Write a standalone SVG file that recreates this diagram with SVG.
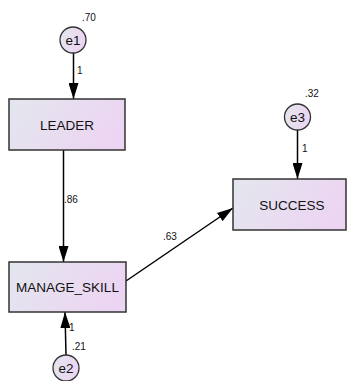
<svg xmlns="http://www.w3.org/2000/svg" width="347" height="381" viewBox="0 0 347 381">
<defs>
<linearGradient id="g" x1="0" y1="0" x2="1" y2="0.3">
<stop offset="0" stop-color="#e3e7ee"/>
<stop offset="1" stop-color="#ecd5f2"/>
</linearGradient>
<marker id="ah" markerWidth="16" markerHeight="10" refX="16" refY="5" orient="auto" markerUnits="userSpaceOnUse">
<path d="M0,0 L16,5 L0,10 z" fill="#000"/>
</marker>
<style>
.box{fill:url(#g);stroke:#333;stroke-width:1.5}
.circ{fill:url(#g);stroke:#333;stroke-width:1.3}
.lbl{font-family:"Liberation Sans",Arial,sans-serif;font-size:13.5px;fill:#111;text-anchor:middle}
.num{font-family:"Liberation Sans",Arial,sans-serif;font-size:10px;fill:#111}
.edge{stroke:#000;stroke-width:1.5;fill:none;marker-end:url(#ah)}
</style>
</defs>
<rect width="347" height="381" fill="#fff"/>
<g id="connectors">
<line class="edge" x1="73.5" y1="53" x2="73.5" y2="99"/>
<line class="edge" x1="63.5" y1="150" x2="63.5" y2="262"/>
<line class="edge" x1="66" y1="355" x2="65" y2="312"/>
<line class="edge" x1="297.5" y1="130" x2="297.5" y2="179"/>
<line class="edge" x1="126" y1="281" x2="233" y2="208"/>
<text class="num" x="77" y="74">1</text>
<text class="num" x="64" y="203">.86</text>
<text class="num" x="69" y="331">1</text>
<text class="num" x="72" y="350">.21</text>
<text class="num" x="302" y="152">1</text>
<text class="num" x="163" y="240">.63</text>
</g>
<g id="e1">
<circle class="circ" cx="73" cy="40" r="13"/>
<text class="lbl" x="73" y="45">e1</text>
<text class="num" x="82" y="21">.70</text>
</g>
<g id="LEADER">
<rect class="box" x="9" y="99" width="116" height="51"/>
<text class="lbl" x="67" y="130">LEADER</text>
</g>
<g id="MANAGE_SKILL">
<rect class="box" x="9" y="262" width="117" height="50"/>
<text class="lbl" x="67.5" y="292">MANAGE_SKILL</text>
</g>
<g id="e2">
<circle class="circ" cx="66" cy="368" r="13"/>
<text class="lbl" x="66" y="373">e2</text>
</g>
<g id="SUCCESS">
<rect class="box" x="233" y="179" width="113" height="51"/>
<text class="lbl" x="292" y="209.5">SUCCESS</text>
</g>
<g id="e3">
<circle class="circ" cx="297.5" cy="117" r="13"/>
<text class="lbl" x="297.5" y="122">e3</text>
<text class="num" x="305" y="97">.32</text>
</g>
</svg>
